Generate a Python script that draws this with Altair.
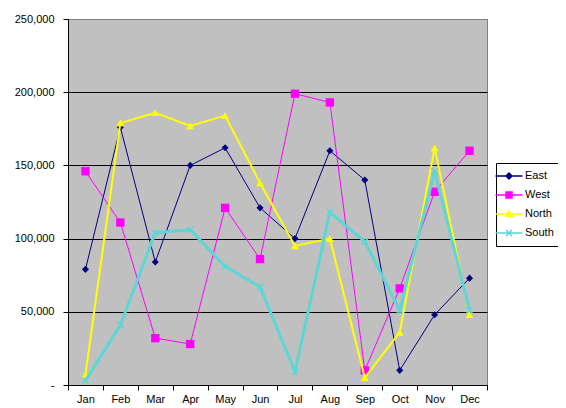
import altair as alt
import pandas as pd

months = ["Jan", "Feb", "Mar", "Apr", "May", "Jun", "Jul", "Aug", "Sep", "Oct", "Nov", "Dec"]
series_names = ["East", "West", "North", "South"]
east = [79000, 176000, 84000, 150000, 162000, 121000, 100000, 160000, 140000, 10000, 48000, 73000]
west = [146000, 111000, 32000, 28000, 121000, 86000, 199000, 193000, 10000, 66000, 132000, 160000]
north = [7000, 179000, 186000, 177000, 184000, 138000, 95000, 100000, 5000, 36000, 162000, 48000]
south = [3000, 41000, 104000, 106000, 81000, 67000, 9000, 118000, 98000, 51000, 146000, 51000]
y_ticks = [0, 50000, 100000, 150000, 200000, 250000]

values = {"East": east, "West": west, "North": north, "South": south}
rows = []
for s in series_names:
    for m, v in zip(months, values[s]):
        rows.append({"month": m, "series": s, "value": v})
df = pd.DataFrame(rows)

colors = {"East": "#000080", "West": "#FF00FF", "North": "#FFFF00", "South": "#5CD6D6"}
widths = {"East": 1, "West": 1, "North": 2, "South": 3}
FONT = "Liberation Sans"

x_enc = alt.X("month:N", sort=months, bandPosition=0.5,
              scale=alt.Scale(type="band", paddingInner=0, paddingOuter=0),
              axis=alt.Axis(title=None, labelAngle=0, tickBand="extent", grid=False,
                            domainColor="black", tickColor="black", tickSize=5,
                            labelPadding=3, labelFont=FONT, labelFontSize=11,
                            labelColor="black"))
y_enc = alt.Y("value:Q", scale=alt.Scale(domain=[0, 250000], nice=False, zero=True),
              axis=alt.Axis(title=None, values=y_ticks,
                            labelExpr="datum.value == 0 ? '-\u00a0\u00a0' : format(datum.value, ',')",
                            grid=True,
                            gridColor={"condition": {"test": "datum.value === 250000", "value": "#808080"}, "value": "black"},
                            gridWidth=1, domainColor="black", tickColor="black", tickSize=5,
                            labelPadding=9, labelFont=FONT, labelFontSize=11, labelColor="black"))

base = alt.Chart(df)
layers = []
marker_shapes = {"East": "diamond", "West": "square", "North": "triangle-up"}
marker_sizes = {"East": 50, "West": 70, "North": 60}
for s in series_names:
    sub = base.transform_filter(alt.datum.series == s)
    layers.append(sub.mark_line(color=colors[s], strokeWidth=widths[s]).encode(x=x_enc, y=y_enc))
    if s in marker_shapes:
        layers.append(sub.mark_point(filled=True, color=colors[s], shape=marker_shapes[s],
                                     size=marker_sizes[s], opacity=1).encode(x=x_enc, y=y_enc))
    else:
        layers.append(sub.mark_point(filled=False, color=colors[s], strokeWidth=1.5,
                                     shape="M-1,-1L1,1M-1,1L1,-1", size=40, opacity=1).encode(x=x_enc, y=y_enc))

legend_paths = [
    "M-2.7,0L2.7,0M0,-0.6L0.6,0L0,0.6L-0.6,0Z",
    "M-2.7,0L2.7,0M-0.6,-0.6L0.6,-0.6L0.6,0.6L-0.6,0.6Z",
    "M-2.7,0L2.7,0M0,-0.6L0.65,0.5L-0.65,0.5Z",
    "M-2.7,0L2.7,0M-0.6,-0.6L0.6,0.6M-0.6,0.6L0.6,-0.6",
]
color_list = [colors[s] for s in series_names]
leg = alt.Legend(title=None, orient="none", legendX=428, legendY=144, padding=7,
                 fillColor="white", strokeColor="black", cornerRadius=0,
                 labelFont=FONT, labelFontSize=11, labelColor="black",
                 symbolSize=100, symbolStrokeWidth=1.5, labelOffset=10, rowPadding=7)
legend_layer = base.transform_filter("false").mark_point(filled=False, opacity=1).encode(
    x=x_enc, y=y_enc,
    fill=alt.Fill("series:N", scale=alt.Scale(domain=series_names, range=color_list), legend=leg),
    stroke=alt.Stroke("series:N", scale=alt.Scale(domain=series_names, range=color_list), legend=leg),
    shape=alt.Shape("series:N", scale=alt.Scale(domain=series_names, range=legend_paths), legend=leg),
)
layers.append(legend_layer)

chart = alt.layer(*layers).properties(
    width=419, height=366,
    autosize=alt.AutoSizeParams(type="none"),
    padding={"left": 60, "top": 11, "right": 71, "bottom": 20},
    background="white",
).configure_view(stroke="#808080", strokeWidth=1, fill="#C0C0C0")

chart.save("out.html", embed_options={"renderer": "svg", "actions": False})
